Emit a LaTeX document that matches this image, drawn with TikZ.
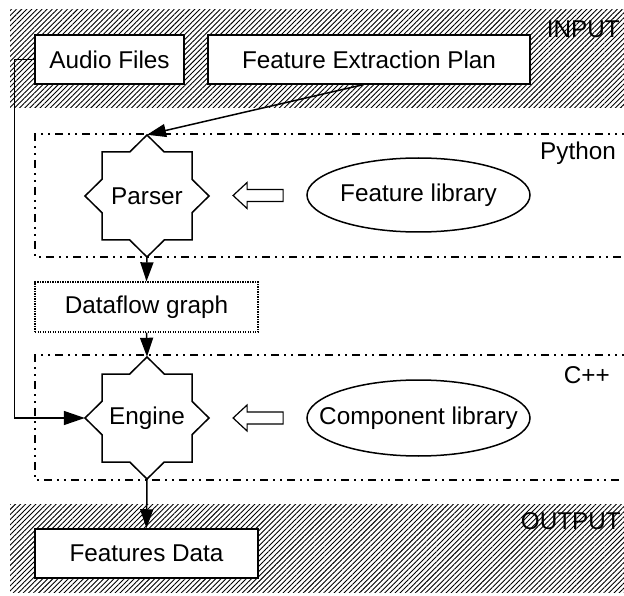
\documentclass[tikz,border=0pt]{standalone}
\usepackage{fontspec}
\setmainfont{Liberation Sans}
\usetikzlibrary{shapes.geometric,arrows.meta,patterns.meta,calc}
\begin{document}
\begin{tikzpicture}[x=1pt,y=-1pt,
  every node/.style={font=\fontsize{24.3}{28}\selectfont},
  box/.style={draw,line width=1.5pt,fill=white,inner sep=0pt,minimum height=49pt},
  dotbox/.style={draw,line width=1.3pt,dash pattern=on 1.3pt off 1.2pt,fill=white,inner sep=0pt},
  starnode/.style={diamond,inner sep=0pt,minimum width=124pt,minimum height=122pt,aspect=1.016},
  libtext/.style={inner sep=0pt},
  libline/.style={line width=1.5pt},
  lbl/.style={inner sep=0pt},
  hatch/.style={pattern={Lines[angle=45,distance=3.6pt,line width=0.9pt]}},
  zone/.style={line width=1.4pt,dash pattern=on 8pt off 5pt on 2pt off 5pt on 2pt off 5pt},
  starline/.style={line width=1.5pt},
  conn/.style={line width=1.5pt,-{Triangle[length=19pt,width=13pt]}},
  hollowarrow/.pic={\draw[line width=1.2pt] (25,-6) -- (-11,-6) -- (-11,-13) -- (-25,0) -- (-11,13) -- (-11,6) -- (25,6) -- cycle;}
]
\useasboundingbox (0,0) rectangle (624,596);
\clip (0,0) rectangle (624,596);

% bands
\fill[hatch] (10,10) rectangle (630,108);
\fill[hatch] (10,504) rectangle (630,592);

% zones
\draw[zone] (630,134) -- (35,134) -- (35,257) -- (630,257);
\draw[zone] (630,355) -- (35,355) -- (35,480) -- (630,480);

% labels
\node[lbl,anchor=east] (inlbl) at (620,29) {INPUT};
\node[lbl,anchor=east] (outlbl) at (621,521) {OUTPUT};
\node[lbl,anchor=base east] (pylbl) at (616,159.5) {Python};
\node[lbl,anchor=base east] (cpplbl) at (610,383) {C++};

% nodes
\node[box,minimum width=149pt] (audio) at (109.5,59.5) {Audio Files};
\node[box,minimum width=322pt] (fep) at (369,59.5) {Feature Extraction Plan};
\node[starnode] (parser) at (147,196) {Parser};
\node[starnode] (engine) at (147,418) {Engine};
\node[dotbox,minimum width=223pt,minimum height=50pt] (dfg) at (146.5,307) {Dataflow graph};
\node[box,minimum width=223pt] (feat) at (146.5,553.5) {Features Data};
\node[libtext] (flib) at (418.5,195) {Feature library};
\node[libtext] (clib) at (418.5,418) {Component library};
\draw[libline] (flib.center) ellipse [x radius=111.5pt, y radius=37pt];
\draw[libline] (clib.center) ellipse [x radius=111.5pt, y radius=38pt];

% star outlines
\foreach \n in {parser,engine}{
  \draw[starline,shift={(\n.center)}] (0,-61) -- (17.3,-44) -- (45,-44) -- (45,-16.7) -- (62,0) -- (45,16.7) -- (45,44) -- (17.3,44) -- (0,61) -- (-17.3,44) -- (-45,44) -- (-45,16.7) -- (-62,0) -- (-45,-16.7) -- (-45,-44) -- (-17.3,-44) -- cycle;
}

% hollow arrows
\pic at ($(parser.east)!0.5!([xshift=-111.5pt]flib.center)$) {hollowarrow};
\pic at ($(engine.east)!0.5!([xshift=-111.5pt]clib.center)$) {hollowarrow};

% connectors
\draw[conn] ([xshift=-6pt]fep.south) -- (parser.north);
\draw[conn] (parser.south) -- (dfg.north);
\draw[conn] (dfg.south) -- (engine.north);
\draw[conn] (engine.south) -- (feat.north);
\draw[line width=1.5pt,-{Triangle[length=21pt,width=14pt]}] (audio.west) -- ++(-20,0) |- (engine.west);
\end{tikzpicture}
\end{document}
